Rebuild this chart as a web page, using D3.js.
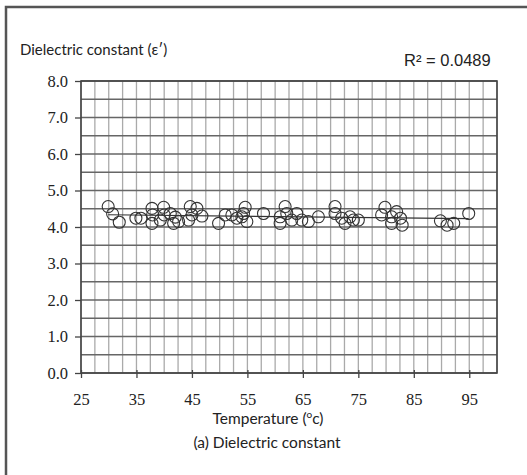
<!DOCTYPE html>
<html><head><meta charset="utf-8">
<script src="https://cdn.jsdelivr.net/npm/d3@7"></script>
<style>body{margin:0;background:#fff}svg{display:block}</style>
</head><body>
<svg id="c" width="527" height="475"></svg>
<script>
const temps = [29.9,30.7,31.9,34.9,35.8,37.8,37.9,37.8,39.9,40.0,39.3,41.1,42.0,41.7,42.6,44.7,45.0,44.4,45.9,46.8,
  49.8,51.0,52.2,53.1,54.0,54.6,54.9,54.3,57.9,60.9,60.9,61.8,62.1,63.0,63.9,64.8,66.0,67.8,70.8,70.8,72.0,72.6,73.5,74.1,75.0,
  79.8,79.2,81.0,81.0,81.9,82.6,82.9,89.8,91.0,92.2,94.9];
const values = [4.56,4.36,4.13,4.24,4.24,4.51,4.33,4.10,4.54,4.33,4.19,4.37,4.27,4.10,4.15,4.56,4.33,4.19,4.51,4.30,
  4.10,4.33,4.33,4.24,4.28,4.54,4.15,4.37,4.37,4.28,4.10,4.56,4.37,4.19,4.37,4.19,4.15,4.28,4.56,4.37,4.24,4.10,4.28,4.19,4.19,
  4.54,4.33,4.28,4.10,4.42,4.24,4.05,4.17,4.05,4.10,4.37];
const xTicks = [25,35,45,55,65,75,85,95];
const yTicks = [0,1,2,3,4,5,6,7,8];
const xGrid = d3.range(25, 100.01, 2.5);
const yGrid = d3.range(0, 8.01, 0.5);
const r2Label = "R² = 0.0489";

const svg = d3.select("#c");
const L=81, R=497, T=81, B=373;
const x = d3.scaleLinear().domain([25,100]).range([L,R]);
const y = d3.scaleLinear().domain([0,8]).range([B,T]);

// outer frame
svg.append("rect").attr("x",6).attr("y",7).attr("width",600).attr("height",600)
  .attr("fill","none").attr("stroke","#555").attr("stroke-width",2.5);

// grid
svg.append("g").selectAll("line").data(xGrid).join("line")
  .attr("x1",d=>x(d)).attr("x2",d=>x(d)).attr("y1",T).attr("y2",B)
  .attr("stroke","#aaa").attr("stroke-width",1.3);
svg.append("g").selectAll("line").data(yGrid).join("line")
  .attr("x1",L).attr("x2",R).attr("y1",d=>y(d)).attr("y2",d=>y(d))
  .attr("stroke","#666").attr("stroke-width",1.3);

// axes
const ya = svg.append("g").attr("transform",`translate(${L},0)`)
  .call(d3.axisLeft(y).tickValues(yTicks).tickFormat(d3.format(".1f")).tickSize(6).tickPadding(7));
const xa = svg.append("g").attr("transform",`translate(0,${B})`)
  .call(d3.axisBottom(x).tickValues(xTicks).tickSize(5).tickPadding(15));
[ya,xa].forEach(g=>{
  g.select(".domain").remove();
  g.selectAll("line").attr("stroke","#444").attr("stroke-width",1.3);
  g.selectAll("text").attr("font-family","Liberation Serif, serif").attr("font-size",16.5).attr("fill","#222");
});
xa.selectAll(".tick line").attr("y1",-3);

svg.append("rect").attr("x",L).attr("y",T).attr("width",R-L).attr("height",B-T)
  .attr("fill","none").attr("stroke","#444").attr("stroke-width",1.6);

// regression
const mx=d3.mean(temps), my=d3.mean(values);
let sxy=0,sxx=0; temps.forEach((t,i)=>{sxy+=(t-mx)*(values[i]-my); sxx+=(t-mx)**2;});
const slope=sxy/sxx, icpt=my-slope*mx;
const ext=d3.extent(temps);
svg.append("line").attr("x1",x(ext[0])).attr("x2",x(ext[1]))
  .attr("y1",y(icpt+slope*ext[0])).attr("y2",y(icpt+slope*ext[1]))
  .attr("stroke","#333").attr("stroke-width",1.2);

// points
svg.append("g").selectAll("circle").data(temps).join("circle")
  .attr("cx",d=>x(d)).attr("cy",(d,i)=>y(values[i])).attr("r",6)
  .attr("fill","none").attr("stroke","#333").attr("stroke-width",1.1);

// texts
svg.append("text").attr("x",20).attr("y",55).attr("font-family","Lato, sans-serif")
  .attr("font-size",15).attr("fill","#222").text("Dielectric constant (ε′)");
svg.append("text").attr("x",404).attr("y",66).attr("font-family","Liberation Sans, Arial, sans-serif")
  .attr("font-size",16.5).attr("fill","#222").text(r2Label);
const tt = svg.append("text").attr("x",268).attr("y",424).attr("text-anchor","middle")
  .attr("font-family","Lato, sans-serif").attr("font-size",15.5).attr("fill","#222");
tt.append("tspan").text("Temperature (");
tt.append("tspan").attr("font-size",10).attr("dy",-6).text("o");
tt.append("tspan").attr("dy",6).text("c)");
svg.append("text").attr("x",267).attr("y",448).attr("text-anchor","middle")
  .attr("font-family","Lato, sans-serif").attr("font-size",15.5).attr("fill","#222")
  .text("(a) Dielectric constant");
</script>
</body></html>
